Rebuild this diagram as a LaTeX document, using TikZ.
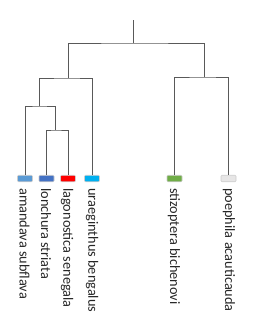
\documentclass[tikz,border=0pt]{standalone}
\usepackage{fontspec}
\setmainfont{Carlito}

\definecolor{amandavaC}{HTML}{5B9BD5}
\definecolor{lonchuraC}{HTML}{4472C4}
\definecolor{lagonosticaC}{HTML}{FF0000}
\definecolor{uraeginthusC}{HTML}{00B0F0}
\definecolor{stizopteraC}{HTML}{70AD47}
\definecolor{poephilaC}{HTML}{E7E6E6}

\begin{document}
\begin{tikzpicture}[x=1pt, y=-1pt,
    branch/.style={draw=gray!70!black, line width=1pt},
    leaf/.style={draw=gray!40, line width=0.6pt, rounded corners=1pt,
        minimum width=15pt, minimum height=6.5pt, inner sep=0pt},
    species/.style={rotate=-90, anchor=west, inner sep=0pt, text=black!85,
        font=\fontsize{14.3}{14.3}\selectfont}]

    % 0. Khung hình
    \useasboundingbox (0,0) rectangle (264,335);

    % 1. Các lá (ô màu)
    \node[leaf, fill=amandavaC]    (amandava)    at (25,178.5)  {};
    \node[leaf, fill=lonchuraC]    (lonchura)    at (46.5,178.5) {};
    \node[leaf, fill=lagonosticaC] (lagonostica) at (68,178.5)  {};
    \node[leaf, fill=uraeginthusC] (uraeginthus) at (92,178.5)  {};
    \node[leaf, fill=stizopteraC]  (stizoptera)  at (174.5,178.5) {};
    \node[leaf, fill=poephilaC]    (poephila)    at (228.5,178.5) {};

    % 2. Tên loài
    \node[species] (amandavaT)    at (24.5,188) {amandava subflava};
    \node[species] (lonchuraT)    at (46,188)   {lonchura striata};
    \node[species] (lagonosticaT) at (67,188)   {lagonostica senegala};
    \node[species] (uraeginthusT) at (92,188)   {uraeginthus bengalus};
    \node[species] (stizopteraT)  at (174,188)  {stizoptera bichenovi};
    \node[species] (poephilaT)    at (229,188)  {poephila acauticauda};

    % 3. Các nút trong của cây
    \coordinate (top) at (133,20);
    \coordinate (n0)  at (133,43);
    \coordinate (n1)  at (68,78);
    \coordinate (n2)  at (39,106);
    \coordinate (n3)  at (55,130);
    \coordinate (n4)  at (204,77);

    % 4. Các nhánh
    \draw[branch] (top) -- (n0);
    \draw[branch] (n1) |- (n0) -| (n4);
    \draw[branch] (n2) |- (n1) -| (uraeginthus.north);
    \draw[branch] (amandava.north) |- (n2) -| (n3);
    \draw[branch] (lonchura.north) |- (n3) -| (lagonostica.north);
    \draw[branch] (stizoptera.north) |- (n4) -| (poephila.north);

\end{tikzpicture}
\end{document}
